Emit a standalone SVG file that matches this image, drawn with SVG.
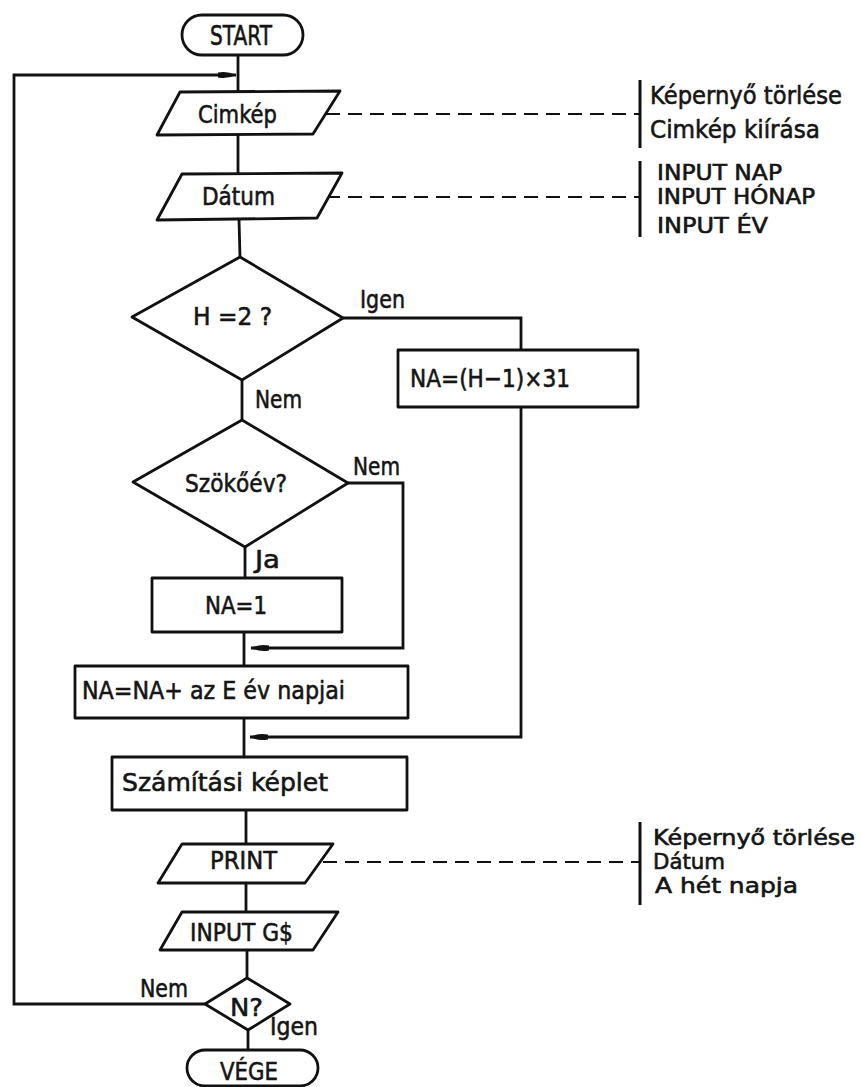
<svg xmlns="http://www.w3.org/2000/svg" width="861" height="1087" viewBox="0 0 861 1087">
<defs>
<style>
.s{fill:#fff;stroke:#111;stroke-width:2.8;stroke-linejoin:round}
.c{fill:none;stroke:#111;stroke-width:2.8}
.d{fill:none;stroke:#111;stroke-width:2.2;stroke-dasharray:14 8}
.b{fill:none;stroke:#111;stroke-width:3}
text{font-family:"DejaVu Sans","Liberation Sans",sans-serif;font-size:25px;fill:#151515;stroke:#151515;stroke-width:0.6}
.big{font-size:27px}
.n{font-size:20.5px}
</style>
<marker id="ah" viewBox="0 -5 18 10" refX="18" refY="0" markerWidth="18" markerHeight="10" markerUnits="userSpaceOnUse" orient="auto">
<path d="M0,-2.5 Q9,-4.5 18,0 Q9,4.5 0,2.5 Z" fill="#111"/>
</marker>
</defs>
<rect width="861" height="1087" fill="#fff"/>

<g id="connectors">
<path class="c" d="M238,55 V92"/>
<path class="c" d="M238,134 V174"/>
<path class="c" d="M239,219 L240,257"/>
<path class="c" d="M242,380 V420"/>
<path class="c" d="M245,547 V578"/>
<path class="c" d="M244,632 V666"/>
<path class="c" d="M244,718 V757"/>
<path class="c" d="M246,810 V844"/>
<path class="c" d="M246,883 V912"/>
<path class="c" d="M247,950 V978"/>
<path class="c" d="M248,1030 V1050"/>
<path class="c" d="M343,318 H521 V350"/>
<path class="c" d="M521,407 V737 H250" marker-end="url(#ah)"/>
<path class="c" d="M348,483 H403 V648 H251" marker-end="url(#ah)"/>
<path class="c" d="M205,1004 H14 V75 H236" marker-end="url(#ah)"/>
<path class="d" d="M326,114 H640"/>
<path class="d" d="M326,197 H640"/>
<path class="d" d="M323,862 H640"/>
</g>

<g id="start">
<rect class="s" x="182" y="15" width="121" height="40" rx="20"/>
<text class="big" x="210" y="45" textLength="62" lengthAdjust="spacingAndGlyphs">START</text>
</g>

<g id="cimkep">
<polygon class="s" points="180,92 340,91 313,134 157,135"/>
<text x="198" y="123" textLength="79" lengthAdjust="spacingAndGlyphs">Cimkép</text>
</g>

<g id="datum">
<polygon class="s" points="182,174 342,173 317,218 157,220"/>
<text x="202" y="205" textLength="73" lengthAdjust="spacingAndGlyphs">Dátum</text>
</g>

<g id="h2">
<polygon class="s" points="240,257 343,318 242,380 132,317"/>
<text x="193" y="325" textLength="79" lengthAdjust="spacingAndGlyphs">H =2 ?</text>
</g>
<text x="360" y="308" textLength="45" lengthAdjust="spacingAndGlyphs">Igen</text>
<text x="255" y="408" textLength="47" lengthAdjust="spacingAndGlyphs">Nem</text>

<g id="na31">
<rect class="s" x="398" y="350" width="240" height="57"/>
<text x="410" y="387" textLength="160" lengthAdjust="spacingAndGlyphs">NA=(H−1)×31</text>
</g>

<g id="szokoev">
<polygon class="s" points="242,420 348,483 245,547 133,482"/>
<text x="185" y="492" textLength="102" lengthAdjust="spacingAndGlyphs">Szökőév?</text>
</g>
<text x="353" y="475" textLength="47" lengthAdjust="spacingAndGlyphs">Nem</text>
<text x="255" y="568" textLength="25" lengthAdjust="spacingAndGlyphs">Ja</text>

<g id="na1">
<rect class="s" x="152" y="578" width="190" height="54"/>
<text x="205" y="614" textLength="62" lengthAdjust="spacingAndGlyphs">NA=1</text>
</g>

<g id="naev">
<rect class="s" x="75" y="666" width="333" height="52"/>
<text x="82" y="699" textLength="263" lengthAdjust="spacingAndGlyphs">NA=NA+ az E év napjai</text>
</g>

<g id="szamitasi">
<rect class="s" x="112" y="757" width="295" height="53"/>
<text x="122" y="791" textLength="206" lengthAdjust="spacingAndGlyphs">Számítási képlet</text>
</g>

<g id="print">
<polygon class="s" points="182,844 333,844 305,883 158,883"/>
<text x="210" y="869" textLength="67" lengthAdjust="spacingAndGlyphs">PRINT</text>
</g>

<g id="inputg">
<polygon class="s" points="182,912 338,912 313,950 160,950"/>
<text x="190" y="941" textLength="103" lengthAdjust="spacingAndGlyphs">INPUT G$</text>
</g>

<g id="n">
<polygon class="s" points="247,978 290,1004 248,1030 205,1004"/>
<text x="230" y="1016" textLength="33" lengthAdjust="spacingAndGlyphs">N?</text>
</g>
<text x="140" y="997" textLength="48" lengthAdjust="spacingAndGlyphs">Nem</text>
<text x="270" y="1035" textLength="48" lengthAdjust="spacingAndGlyphs">Igen</text>

<g id="vege">
<rect class="s" x="187" y="1050" width="131" height="36" rx="18"/>
<text x="220" y="1080" textLength="58" lengthAdjust="spacingAndGlyphs">VÉGE</text>
</g>

<g id="note1">
<path class="b" d="M640,80 V148"/>
<text x="650" y="104" textLength="192" lengthAdjust="spacingAndGlyphs">Képernyő törlése</text>
<text x="650" y="138" textLength="170" lengthAdjust="spacingAndGlyphs">Cimkép kiírása</text>
</g>

<g id="note2">
<path class="b" d="M640,161 V237"/>
<text class="n" x="657" y="180" textLength="125" lengthAdjust="spacingAndGlyphs">INPUT NAP</text>
<text class="n" x="657" y="204" textLength="158" lengthAdjust="spacingAndGlyphs">INPUT HÓNAP</text>
<text class="n" x="657" y="233" textLength="111" lengthAdjust="spacingAndGlyphs">INPUT ÉV</text>
</g>

<g id="note3">
<path class="b" d="M640,822 V905"/>
<text class="n" x="653" y="845" textLength="202" lengthAdjust="spacingAndGlyphs">Képernyő törlése</text>
<text class="n" x="653" y="869" textLength="72" lengthAdjust="spacingAndGlyphs">Dátum</text>
<text class="n" x="655" y="893" textLength="143" lengthAdjust="spacingAndGlyphs">A hét napja</text>
</g>
</svg>
